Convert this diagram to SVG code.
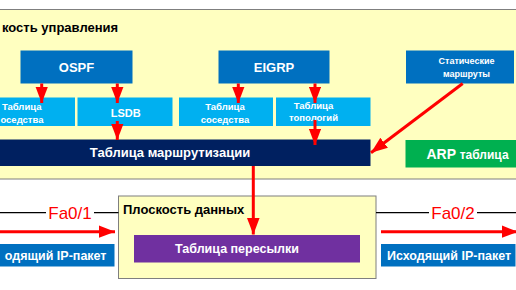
<svg xmlns="http://www.w3.org/2000/svg" width="516" height="290" viewBox="0 0 516 290">
<defs>
<marker id="ah" markerWidth="5.5" markerHeight="4.2" refX="5.5" refY="2.1" orient="auto" markerUnits="strokeWidth">
<path d="M0,0 L5.5,2.1 L0,4.2 Z" fill="#ff0000"/>
</marker>
<style>
text{font-family:"Liberation Sans",Arial,sans-serif;font-weight:bold}
.w{fill:#ffffff}
.plane{fill:#ffffc0;stroke:#7f7f7f;stroke-width:1}
.blue{fill:#0070c0}
.lb{fill:#00b0f0}
.arr{stroke:#ff0000;stroke-width:3;fill:none;marker-end:url(#ah)}
.port{fill:#ff0000;font-weight:normal;font-size:17px}
</style>
</defs>
<rect x="0" y="0" width="516" height="290" fill="#ffffff"/>
<g id="control-plane">
<rect class="plane" x="-5" y="9.5" width="530" height="169.5"/>
<text x="2" y="32" font-size="13" fill="#000">кость управления</text>
</g>
<g id="ospf">
<rect class="blue" x="20.5" y="50.5" width="112" height="33"/>
<text class="w" x="76.5" y="72" font-size="13" text-anchor="middle">OSPF</text>
</g>
<g id="eigrp">
<rect class="blue" x="218.5" y="50.5" width="111" height="33"/>
<text class="w" x="274" y="72" font-size="13" text-anchor="middle">EIGRP</text>
</g>
<g id="static">
<rect class="blue" x="406" y="50.5" width="108" height="33"/>
<text class="w" x="466.5" y="64" font-size="9" text-anchor="middle">Статические</text>
<text class="w" x="466.5" y="77" font-size="9" text-anchor="middle">маршруты</text>
</g>
<g id="neigh1">
<rect class="lb" x="-5" y="97.5" width="80" height="28.5"/>
<text class="w" x="21.7" y="110.2" font-size="9.5" text-anchor="middle">Таблица</text>
<text class="w" x="43.5" y="122.8" font-size="9.5" text-anchor="end">оседства</text>
</g>
<g id="lsdb">
<rect class="lb" x="77.5" y="97.5" width="95" height="28.5"/>
<text class="w" x="125.8" y="116.5" font-size="11" text-anchor="middle">LSDB</text>
</g>
<g id="neigh2">
<rect class="lb" x="179" y="97.5" width="94" height="28.5"/>
<text class="w" x="225" y="110.2" font-size="9.5" text-anchor="middle">Таблица</text>
<text class="w" x="225" y="122.8" font-size="9.5" text-anchor="middle">соседства</text>
</g>
<g id="topology">
<rect class="lb" x="276" y="97.5" width="94.5" height="28.5"/>
<text class="w" x="313.5" y="108.5" font-size="9.5" text-anchor="middle">Таблица</text>
<text class="w" x="313.5" y="121" font-size="9.5" text-anchor="middle">топологий</text>
</g>
<g id="routing-table">
<rect fill="#002060" x="-5" y="139.5" width="375.5" height="26.5"/>
<text class="w" x="170" y="156.5" font-size="13" text-anchor="middle">Таблица маршрутизации</text>
</g>
<g id="arp">
<rect fill="#00b050" x="405.5" y="140" width="115" height="27.5"/>
<text class="w" x="426.5" y="159" font-size="14">ARP <tspan font-size="12">таблица</tspan></text>
</g>
<g id="data-plane">
<rect class="plane" x="118.5" y="196" width="257.5" height="82.5"/>
<text x="123" y="213.5" font-size="13" fill="#000">Плоскость данных</text>
</g>
<g id="fib">
<rect fill="#7030a0" x="134" y="235" width="226" height="27.5"/>
<text class="w" x="237" y="253" font-size="12.5" text-anchor="middle">Таблица пересылки</text>
</g>
<g id="in-packet">
<rect class="blue" x="-5" y="244" width="119.5" height="22.5"/>
<text class="w" x="106.5" y="259.8" font-size="12.5" text-anchor="end">одящий IP-пакет</text>
</g>
<g id="out-packet">
<rect class="blue" x="381" y="244" width="134.5" height="22.5"/>
<text class="w" x="449" y="259.8" font-size="12.5" text-anchor="middle">Исходящий IP-пакет</text>
</g>
<g id="connectors">
<path d="M0,212.7 H46 M94,212.7 H118.5" stroke="#000" stroke-width="1.2"/>
<text class="port" x="70" y="219" text-anchor="middle">Fa0/1</text>
<path d="M376,212.7 H429 M477,212.7 H516" stroke="#000" stroke-width="1.2"/>
<text class="port" x="453" y="219" text-anchor="middle">Fa0/2</text>
<path class="arr" d="M41.7,83.5 V103"/>
<path class="arr" d="M117.3,83.5 V103"/>
<path class="arr" d="M238.3,83.5 V103"/>
<path class="arr" d="M315,83.5 V103"/>
<path class="arr" d="M117.3,121 V140"/>
<path class="arr" d="M315,120 V145"/>
<path class="arr" d="M462.7,83.5 L371,152.7"/>
<path class="arr" d="M253.3,166 V234.5"/>
<path class="arr" d="M0,231.7 H115"/>
<path class="arr" d="M381,231.7 H518"/>
</g>
</svg>
